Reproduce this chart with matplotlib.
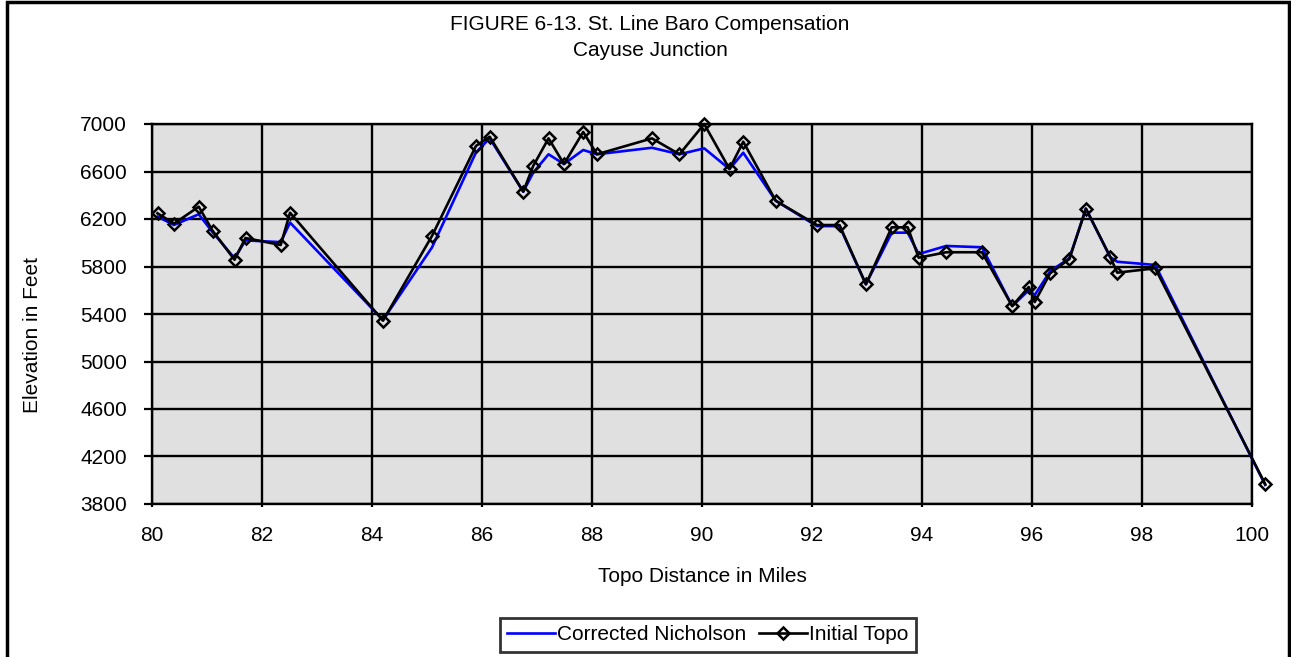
import matplotlib
matplotlib.use("Agg")
import matplotlib.pyplot as plt
from matplotlib.patches import Rectangle

plt.rcParams["font.family"] = ["Liberation Sans", "DejaVu Sans"]

# data
miles = [80.10, 80.40, 80.85, 81.10, 81.50, 81.70, 82.34, 82.51, 84.20, 85.09,
         85.89, 86.14, 86.75, 86.93, 87.21, 87.49, 87.84, 88.09, 89.09, 89.59,
         90.04, 90.50, 90.75, 91.34, 92.09, 92.50, 92.98, 93.45, 93.74, 93.94,
         94.44, 95.09, 95.64, 95.94, 96.05, 96.33, 96.68, 96.98, 97.42, 97.55,
         98.24, 100.24]

initial_topo = [6248, 6161, 6304, 6102, 5857, 6040, 5981, 6253, 5344, 6057,
                6815, 6893, 6430, 6646, 6879, 6663, 6933, 6745, 6879, 6745,
                7000, 6621, 6851, 6354, 6149, 6149, 5650, 6130, 6130, 5874,
                5920, 5920, 5467, 5627, 5501, 5743, 5863, 6287, 5883, 5748,
                5785, 3968]

corrected = [6220, 6150, 6240, 6090, 5870, 6020, 6005, 6170, 5350, 5960,
             6760, 6880, 6430, 6590, 6745, 6663, 6781, 6745, 6800, 6745,
             6795, 6621, 6758, 6354, 6140, 6140, 5650, 6085, 6085, 5905,
             5973, 5962, 5467, 5600, 5560, 5760, 5870, 6287, 5880, 5840,
             5813, 3960]

x_ticks = list(range(80, 101, 2))
y_ticks = list(range(3800, 7001, 400))

W, H = 1291, 657
FS = 15
fig = plt.figure(figsize=(W / 100, H / 100), dpi=100)
fig.patch.set_facecolor("white")

# outer chart frame
fig.patches.append(Rectangle((7 / W, -0.02), (1289 - 7) / W, 1.02 - 2 / H,
                             transform=fig.transFigure, fill=False,
                             edgecolor="black", linewidth=2.5))

ax = fig.add_axes([152 / W, 1 - 504 / H, (1252 - 152) / W, (504 - 124) / H])
ax.set_facecolor("#E0E0E0")

ax.plot(miles, corrected, color="#0000FF", linewidth=1.9, clip_on=False,
        zorder=3, label="Corrected Nicholson")
ax.plot(miles, initial_topo, color="black", linewidth=1.9, marker="D",
        markersize=6, markerfacecolor="none", markeredgecolor="black",
        markeredgewidth=1.8, clip_on=False, zorder=4, label="Initial Topo")

ax.set_xlim(80, 100)
ax.set_ylim(3800, 7000)
ax.set_xticks(x_ticks)
ax.set_yticks(y_ticks)
ax.grid(True, color="black", linewidth=1.7)
ax.set_axisbelow(True)
for s in ax.spines.values():
    s.set_color("black")
    s.set_linewidth(1.7)
ax.tick_params(axis="y", length=6, width=1.6, pad=12, labelsize=FS)
ax.tick_params(axis="x", length=2, width=1.6, pad=14, labelsize=FS)

# titles and axis labels
fig.text(650 / W, 1 - 24 / H, "FIGURE 6-13. St. Line Baro Compensation",
         ha="center", va="center", fontsize=FS)
fig.text(650 / W, 1 - 50 / H, "Cayuse Junction", ha="center", va="center",
         fontsize=FS)
fig.text(702 / W, 1 - 576 / H, "Topo Distance in Miles", ha="center",
         va="center", fontsize=FS)
fig.text(33 / W, 1 - 335 / H, "Elevation in Feet", ha="center", va="center",
         rotation=90, fontsize=FS)

leg = fig.legend(loc="center", bbox_to_anchor=(708 / W, 1 - 635 / H), ncol=2,
                 frameon=True, fancybox=False, fontsize=FS, handlelength=2.3,
                 handletextpad=0.1, columnspacing=0.6, borderpad=0.36,
                 borderaxespad=0)
leg.get_frame().set_edgecolor("black")
leg.get_frame().set_linewidth(2)

fig.savefig("out.png", dpi=100, facecolor="white")
